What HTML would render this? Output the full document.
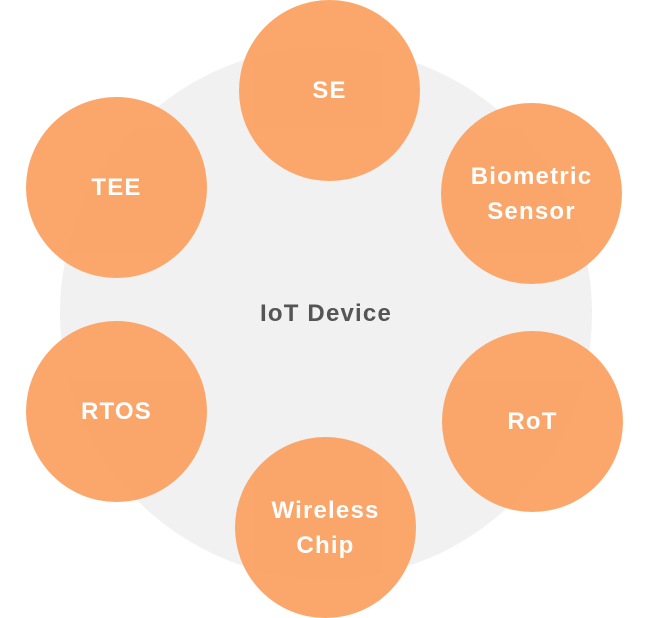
<!DOCTYPE html>
<html><head><style>
html,body{margin:0;padding:0;background:#fff;}
body{width:652px;height:618px;position:relative;overflow:hidden;font-family:"Liberation Sans",sans-serif;}
.big{position:absolute;left:60px;top:47px;width:532px;height:532px;border-radius:50%;background:#f1f1f1;}
.c{position:absolute;width:181px;height:181px;border-radius:50%;background:#fba263;opacity:0.95;color:#fff;font-weight:bold;font-size:24px;display:flex;align-items:center;justify-content:center;text-align:center;line-height:35px;letter-spacing:1.2px;}
.lbl{position:absolute;left:0;width:652px;top:300px;text-align:center;font-weight:bold;font-size:24px;color:#555;letter-spacing:1.2px;}
</style></head><body>
<div class="big"></div>
<div class="lbl">IoT Device</div>
<div class="c" style="left:239px;top:0px;">SE</div>
<div class="c" style="left:441px;top:103px;">Biometric<br>Sensor</div>
<div class="c" style="left:442px;top:331px;">RoT</div>
<div class="c" style="left:235px;top:437px;">Wireless<br>Chip</div>
<div class="c" style="left:26px;top:321px;">RTOS</div>
<div class="c" style="left:26px;top:97px;">TEE</div>
</body></html>
